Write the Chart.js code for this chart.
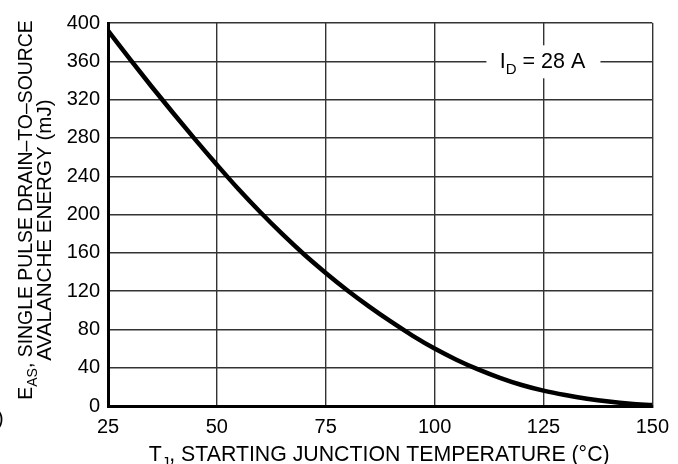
<!DOCTYPE html>
<html>
<head>
<meta charset="utf-8">
<script src="https://cdn.jsdelivr.net/npm/chart.js@4.4.1/dist/chart.umd.min.js"></script>
<style>
  html, body { margin: 0; padding: 0; background: #fff; }
  #wrap { width: 678px; height: 464px; position: relative; }
</style>
</head>
<body>
<div id="wrap"><canvas id="chart" width="678" height="464"></canvas></div>
<script>
// Avalanche energy vs starting junction temperature
const temps = [25, 30, 35, 40, 45, 50, 55, 60, 65, 70, 75, 80, 85, 90, 95, 100, 105, 110, 115, 120, 125, 130, 135, 140, 145, 150];
const energy = [392, 362.5, 333.7, 305.7, 278.5, 252, 226.3, 202.3, 179.7, 158.5, 139, 120.7, 103.8, 88, 73.3, 60, 48.4, 38.2, 29.4, 21.9, 16, 11.4, 7.6, 4.6, 2.4, 1];

const xTicks = [25, 50, 75, 100, 125, 150];
const yTicks = [0, 40, 80, 120, 160, 200, 240, 280, 320, 360, 400];

// rich text pieces: [text, isSubscript]
const xTitle = [['T', false], ['J', true], [', STARTING JUNCTION TEMPERATURE (\u00B0C)', false]];
const yTitle1 = [['E', false], ['AS', true], [', SINGLE PULSE DRAIN\u2013TO\u2013SOURCE', false]];
const yTitle2 = [['AVALANCHE ENERGY (mJ)', false]];
const curveLabel = [['I', false], ['D', true], [' = 28 A', false]];
const curveLabelAt = { x: 125, y: 360 };

const FONT = '"Liberation Sans", Arial, Helvetica, sans-serif';

function richWidth(ctx, parts, size) {
  let w = 0;
  parts.forEach(([t, sub]) => {
    ctx.font = (sub ? Math.round(size * 0.72) : size) + 'px ' + FONT;
    w += ctx.measureText(t).width;
  });
  return w;
}

// draws centred on x, baseline y (in the current transform)
function drawRich(ctx, parts, x, y, size) {
  let cx = x - richWidth(ctx, parts, size) / 2;
  ctx.textAlign = 'left';
  ctx.textBaseline = 'alphabetic';
  parts.forEach(([t, sub]) => {
    ctx.font = (sub ? Math.round(size * 0.72) : size) + 'px ' + FONT;
    ctx.fillText(t, cx, sub ? y + size * 0.28 : y);
    cx += ctx.measureText(t).width;
  });
}

const textPlugin = {
  id: 'textPlugin',
  afterDraw(chart) {
    const ctx = chart.ctx;
    const xs = chart.scales.x, ys = chart.scales.y;
    const area = chart.chartArea;
    ctx.save();
    ctx.fillStyle = '#000';

    // curve label with white box over the grid
    const lx = xs.getPixelForValue(curveLabelAt.x);
    const ly = ys.getPixelForValue(curveLabelAt.y);
    ctx.fillStyle = '#fff';
    ctx.fillRect(lx - 57, ly - 16, 114, 33);
    ctx.fillStyle = '#000';
    drawRich(ctx, curveLabel, lx - 1, ly + 7, 21.5);

    // x axis title
    drawRich(ctx, xTitle, (area.left + area.right) / 2 - 1, 461, 21.3);

    // y axis title, two rotated lines
    ctx.save();
    ctx.translate(32, 210);
    ctx.rotate(-Math.PI / 2);
    drawRich(ctx, yTitle1, 0, 0, 19.4);
    ctx.restore();
    ctx.save();
    ctx.translate(51, 230);
    ctx.rotate(-Math.PI / 2);
    drawRich(ctx, yTitle2, 0, 0, 20.6);
    ctx.restore();

    // clipped glyph at the far left edge of the scan
    ctx.font = '20px ' + FONT;
    ctx.textAlign = 'left';
    ctx.fillText(')', -3, 425);
    ctx.restore();
  }
};

new Chart(document.getElementById('chart').getContext('2d'), {
  type: 'line',
  data: {
    labels: temps,
    datasets: [{
      data: temps.map((t, i) => ({ x: t, y: energy[i] })),
      borderColor: '#000',
      borderWidth: 4.5,
      pointRadius: 0,
      cubicInterpolationMode: 'monotone',
      fill: false,
    }],
  },
  options: {
    responsive: false,
    animation: false,
    devicePixelRatio: 1,
    layout: { padding: { top: 23, right: 23, left: 0, bottom: 0 } },
    plugins: {
      legend: { display: false },
      tooltip: { enabled: false },
      title: { display: false },
    },
    scales: {
      x: {
        type: 'linear',
        min: 25,
        max: 150,
        afterFit: (s) => { s.height = 58; },
        afterBuildTicks: (s) => { s.ticks = xTicks.map(v => ({ value: v })); },
        ticks: {
          color: '#000',
          font: { family: FONT, size: 20 },
          padding: 9,
          maxRotation: 0,
          autoSkip: false,
        },
        grid: { color: '#333', lineWidth: 1.4, drawTicks: false, tickLength: 0 },
        border: { color: '#000', width: 3 },
      },
      y: {
        min: 0,
        max: 400,
        afterFit: (s) => { s.width = 108; },
        afterBuildTicks: (s) => { s.ticks = yTicks.map(v => ({ value: v })); },
        ticks: {
          color: '#000',
          font: { family: FONT, size: 20 },
          padding: 8,
          autoSkip: false,
        },
        grid: { color: '#333', lineWidth: 1.4, drawTicks: false, tickLength: 0 },
        border: { color: '#000', width: 3 },
      },
    },
  },
  plugins: [textPlugin],
});
</script>
</body>
</html>
